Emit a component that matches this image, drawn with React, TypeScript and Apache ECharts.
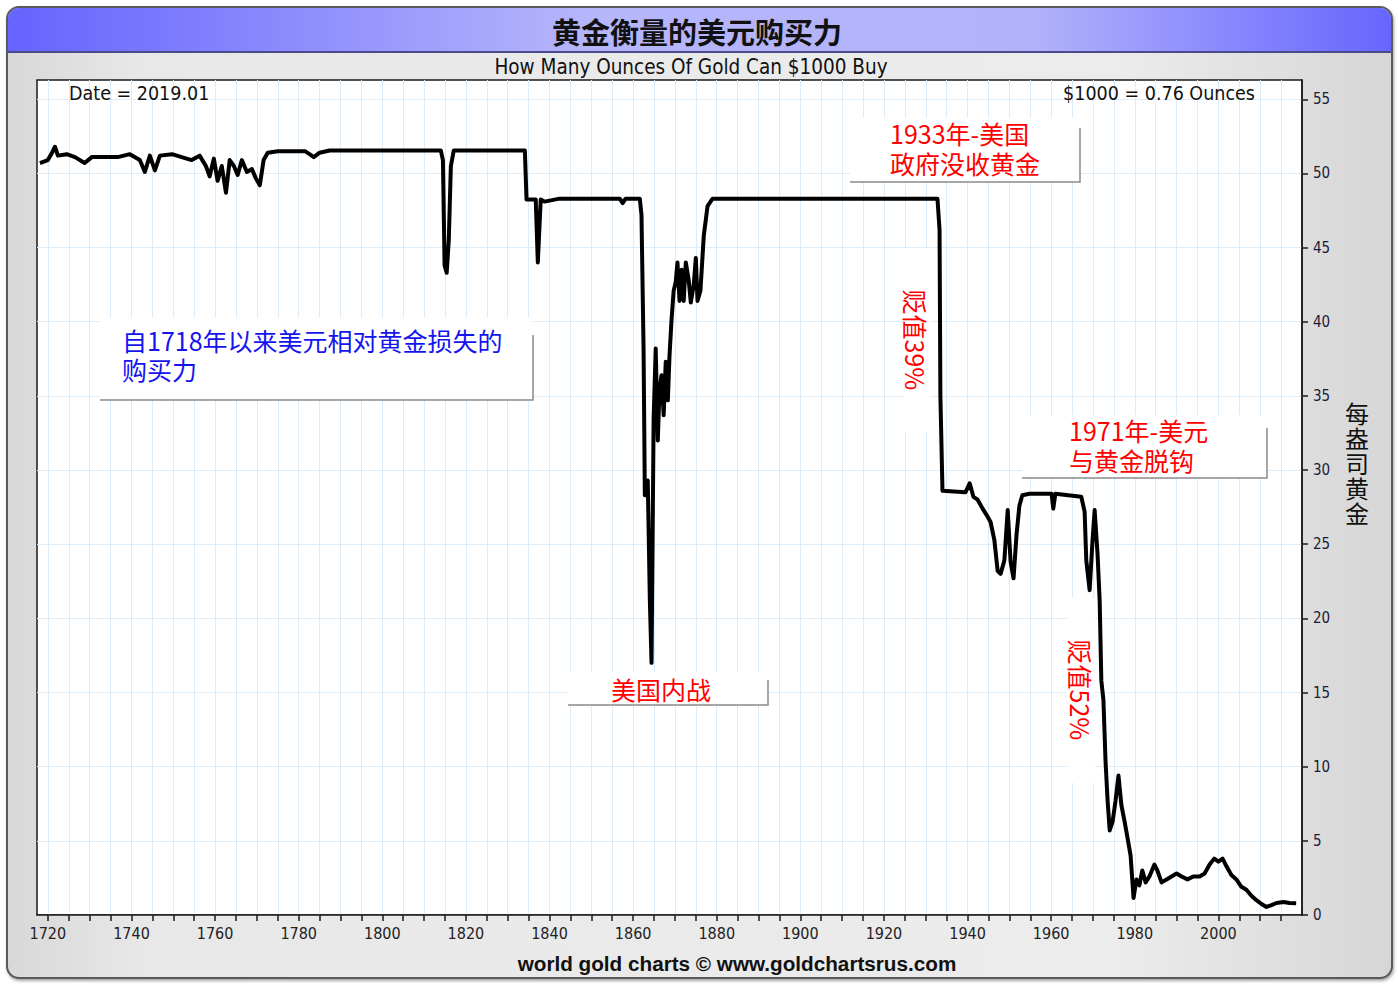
import React, { useEffect, useRef } from "react";
import * as echarts from "echarts";

// ---- Data ----
const years: number[] = [
  1718.1, 1720.0, 1721.0, 1721.7, 1722.4, 1724.5, 1726.5, 1728.8, 1730.5, 1733.6,
  1736.7, 1739.6, 1742.0, 1743.2, 1744.4, 1745.6, 1746.8, 1749.7, 1752.0, 1754.4,
  1756.3, 1757.8, 1758.7, 1759.7, 1760.6, 1761.6, 1762.6, 1763.5, 1764.5, 1765.4,
  1766.4, 1767.6, 1768.8, 1769.7, 1770.7, 1771.6, 1772.6, 1775.0, 1781.5, 1782.6,
  1783.6, 1785.0, 1787.4, 1814.0, 1814.5, 1814.9, 1815.4, 1815.9, 1816.4, 1817.1,
  1834.1, 1834.5, 1836.7, 1837.2, 1837.9, 1838.8, 1842.4, 1856.8, 1857.5, 1858.2,
  1861.6, 1862.0, 1862.5, 1862.8, 1863.5, 1864.0, 1864.4, 1864.9, 1865.4, 1865.9,
  1866.3, 1866.8, 1867.3, 1867.8, 1868.3, 1868.7, 1869.2, 1869.7, 1870.2, 1870.6,
  1871.1, 1871.6, 1872.1, 1872.6, 1873.3, 1873.8, 1874.5, 1875.0, 1875.4, 1876.1,
  1876.9, 1877.8, 1879.0, 1932.8, 1933.3, 1933.5, 1934.0, 1939.5, 1940.5, 1941.4,
  1942.4, 1943.6, 1944.5, 1945.5, 1946.4, 1947.2, 1947.9, 1948.8, 1949.6, 1950.3,
  1951.0, 1951.7, 1952.4, 1953.1, 1954.8, 1960.1, 1960.5, 1961.0, 1967.2, 1968.0,
  1968.4, 1969.2, 1969.9, 1970.4, 1971.1, 1971.6, 1972.0, 1972.5, 1973.0, 1973.5,
  1974.0, 1974.7, 1975.4, 1976.1, 1976.8, 1977.5, 1978.2, 1979.0, 1979.7, 1980.4,
  1981.1, 1981.8, 1982.6, 1983.5, 1984.7, 1985.4, 1986.4, 1987.6, 1988.8, 1990.0,
  1991.2, 1992.6, 1994.0, 1995.5, 1996.7, 1997.9, 1999.0, 2000.0, 2001.0, 2001.9,
  2003.1, 2004.3, 2005.5, 2006.7, 2007.9, 2009.1, 2010.3, 2011.5, 2012.7, 2013.9,
  2015.6, 2017.0, 2018.6,
];
const ounces: number[] = [
  50.7, 50.9, 51.4, 51.8, 51.2, 51.3, 51.1, 50.7, 51.1, 51.1,
  51.1, 51.3, 50.9, 50.1, 51.2, 50.2, 51.2, 51.3, 51.1, 50.9,
  51.2, 50.5, 49.8, 51.0, 49.5, 50.5, 48.7, 50.9, 50.5, 49.9,
  50.9, 50.1, 50.3, 49.7, 49.2, 50.9, 51.4, 51.5, 51.5, 51.3,
  51.1, 51.4, 51.55, 51.55, 50.9, 43.8, 43.3, 45.5, 50.5, 51.55,
  51.55, 48.25, 48.25, 44.0, 48.25, 48.1, 48.3, 48.3, 48.0, 48.3,
  48.3, 47.2, 38.1, 28.3, 29.3, 21.2, 17.0, 33.4, 38.2, 32.0,
  35.4, 36.4, 33.7, 37.3, 34.7, 37.7, 40.2, 42.1, 42.7, 44.0,
  41.4, 43.5, 41.4, 44.0, 42.8, 41.3, 42.5, 44.3, 41.4, 42.1,
  45.8, 47.8, 48.3, 48.3, 46.2, 35.0, 28.6, 28.5, 29.1, 28.2,
  28.0, 27.4, 27.0, 26.5, 25.3, 23.2, 23.0, 23.9, 27.3, 23.8,
  22.7, 25.6, 27.6, 28.3, 28.4, 28.4, 27.4, 28.4, 28.2, 27.2,
  23.9, 21.9, 25.3, 27.3, 24.3, 21.2, 15.8, 14.5, 10.4, 7.7,
  5.7, 6.3, 7.7, 9.4, 7.4, 6.4, 5.3, 4.0, 1.15, 2.4,
  2.0, 3.0, 2.2, 2.6, 3.4, 3.0, 2.2, 2.4, 2.6, 2.8,
  2.6, 2.4, 2.6, 2.6, 2.8, 3.4, 3.8, 3.6, 3.8, 3.3,
  2.7, 2.4, 1.9, 1.7, 1.3, 1.0, 0.74, 0.54, 0.67, 0.81,
  0.88, 0.81, 0.8,
];

const xTickYears: number[] = [
  1720, 1725, 1730, 1735, 1740, 1745, 1750, 1755, 1760, 1765, 1770, 1775, 1780, 1785,
  1790, 1795, 1800, 1805, 1810, 1815, 1820, 1825, 1830, 1835, 1840, 1845, 1850, 1855,
  1860, 1865, 1870, 1875, 1880, 1885, 1890, 1895, 1900, 1905, 1910, 1915, 1920, 1925,
  1930, 1935, 1940, 1945, 1950, 1955, 1960, 1965, 1970, 1975, 1980, 1985, 1990, 1995,
  2000, 2005, 2010, 2015,
];
const xLabelYears: number[] = [
  1720, 1740, 1760, 1780, 1800, 1820, 1840, 1860, 1880, 1900, 1920, 1940, 1960, 1980, 2000,
];
const yTickValues: number[] = [0, 5, 10, 15, 20, 25, 30, 35, 40, 45, 50, 55];

const titleText = "黄金衡量的美元购买力";
const subtitleText = "How Many Ounces Of Gold Can $1000 Buy";
const footerText = "world gold charts © www.goldchartsrus.com";
const dateText = "Date = 2019.01";
const latestText = "$1000 = 0.76 Ounces";
const yAxisName = "每盎司黄金";

const NARROW = '"Liberation Sans Narrow", "DejaVu Sans Condensed", "Liberation Sans", sans-serif';
const CJK = '"Noto Sans CJK SC", "Noto Sans", sans-serif';

function noteBox(x: number, y: number, w: number, h: number, lineTop: number) {
  return [
    { type: "rect", z: 1, shape: { x, y, width: w, height: h }, style: { fill: "#ffffff" } },
    {
      type: "polyline",
      z: 1,
      shape: { points: [[x, y + h], [x + w, y + h], [x + w, lineTop]] },
      style: { stroke: "#8a8a8a", lineWidth: 1.5, fill: null },
    },
  ];
}

function noteText(text: string, x: number, y: number, color = "#ff0000", align = "left") {
  return {
    type: "text",
    z: 5,
    style: {
      text,
      x,
      y,
      fill: color,
      fontSize: 25,
      fontFamily: CJK,
      textAlign: align,
      textVerticalAlign: "middle",
    },
  };
}

function vertText(text: string, cx: number, cy: number) {
  return {
    type: "text",
    z: 5,
    x: cx,
    y: cy,
    rotation: -Math.PI / 2,
    style: {
      text,
      x: 0,
      y: 0,
      fill: "#ff0000",
      fontSize: 25,
      fontFamily: CJK,
      textAlign: "center",
      textVerticalAlign: "middle",
    },
  };
}

export default function App() {
  const ref = useRef<HTMLDivElement>(null);

  useEffect(() => {
    if (!ref.current) return;
    const chart = echarts.init(ref.current, null, { renderer: "svg" });
    const data = years.map((y, i) => [y, ounces[i]]);

    const nameChars = yAxisName.split("").map((ch, i) => ({
      type: "text",
      z: 5,
      style: {
        text: ch,
        x: 1357,
        y: 412 + i * 25,
        fill: "#111111",
        fontSize: 24,
        fontFamily: CJK,
        textAlign: "center",
        textVerticalAlign: "middle",
      },
    }));

    const graphic: any[] = [
      // outer frame
      {
        type: "rect",
        z: -100,
        shape: { x: 7, y: 7, width: 1385, height: 971, r: 12 },
        style: {
          fill: new echarts.graphic.LinearGradient(0, 0, 1, 0, [
            { offset: 0, color: "#d8d8d8" },
            { offset: 0.1, color: "#e8e8e8" },
            { offset: 0.8, color: "#ececec" },
            { offset: 1, color: "#d6d6d6" },
          ]),
          stroke: "#5a5a5a",
          lineWidth: 2,
          shadowBlur: 3,
          shadowOffsetX: 1,
          shadowOffsetY: 2,
          shadowColor: "rgba(0,0,0,0.35)",
        },
      },
      // header bar
      {
        type: "rect",
        z: -99,
        shape: { x: 8, y: 8, width: 1383, height: 44, r: [11, 11, 0, 0] },
        style: {
          fill: new echarts.graphic.LinearGradient(0, 0, 1, 0, [
            { offset: 0, color: "#6464ff" },
            { offset: 0.42, color: "#b6b6fb" },
            { offset: 0.74, color: "#b2b2fb" },
            { offset: 1, color: "#6666ff" },
          ]),
        },
      },
      {
        type: "line",
        z: -98,
        shape: { x1: 8, y1: 52, x2: 1391, y2: 52 },
        style: { stroke: "#4b4b8c", lineWidth: 2 },
      },
      {
        type: "text",
        z: 5,
        style: {
          text: titleText,
          x: 697,
          y: 31,
          fill: "#111111",
          fontSize: 29,
          fontWeight: "bold",
          fontFamily: CJK,
          textAlign: "center",
          textVerticalAlign: "middle",
        },
      },
      {
        type: "text",
        z: 5,
        style: {
          text: subtitleText,
          x: 691,
          y: 67,
          fill: "#111111",
          fontSize: 20.5,
          fontFamily: NARROW,
          textAlign: "center",
          textVerticalAlign: "middle",
        },
      },
      {
        type: "text",
        z: 5,
        style: {
          text: footerText,
          x: 737,
          y: 963,
          fill: "#111111",
          fontSize: 20.7,
          fontWeight: "bold",
          fontFamily: '"Liberation Sans", Arial, sans-serif',
          textAlign: "center",
          textVerticalAlign: "middle",
        },
      },
      {
        type: "text",
        z: 5,
        style: {
          text: dateText,
          x: 69,
          y: 93,
          fill: "#111111",
          fontSize: 19.5,
          fontFamily: NARROW,
          textAlign: "left",
          textVerticalAlign: "middle",
        },
      },
      {
        type: "text",
        z: 5,
        style: {
          text: latestText,
          x: 1255,
          y: 93,
          fill: "#111111",
          fontSize: 19.5,
          fontFamily: NARROW,
          textAlign: "right",
          textVerticalAlign: "middle",
        },
      },
      ...nameChars,
      // annotation boxes
      ...noteBox(100, 318, 433, 82, 335),
      ...noteBox(850, 118, 230, 64, 128),
      ...noteBox(1022, 415, 245, 63, 428),
      ...noteBox(568, 672, 200, 33, 680),
      { type: "rect", z: 1, shape: { x: 903, y: 248, width: 28, height: 184 }, style: { fill: "#ffffff" } },
      { type: "rect", z: 1, shape: { x: 1067, y: 598, width: 28, height: 185 }, style: { fill: "#ffffff" } },
      noteText("自1718年以来美元相对黄金损失的", 122, 340, "#1414f0"),
      noteText("购买力", 122, 369, "#1414f0"),
      noteText("1933年-美国", 890, 133),
      noteText("政府没收黄金", 890, 163),
      noteText("1971年-美元", 1069, 430),
      noteText("与黄金脱钩", 1069, 460),
      noteText("美国内战", 661, 689, "#ff0000", "center"),
      vertText("贬值39%", 916, 340),
      vertText("贬值52%", 1081, 690),
    ];

    chart.setOption({
      animation: false,
      backgroundColor: "transparent",
      graphic,
      grid: {
        left: 37,
        top: 80,
        right: 96,
        bottom: 70,
        show: true,
        backgroundColor: "#ffffff",
        borderColor: "#1a1a1a",
        borderWidth: 1.5,
        containLabel: false,
        outerBoundsMode: "none",
      },
      xAxis: {
        type: "value",
        min: 1717.4,
        max: 2020,
        axisLine: { show: true, onZero: false, lineStyle: { color: "#1a1a1a", width: 1.5 } },
        axisTick: {
          show: true,
          customValues: xTickYears,
          length: 6,
          lineStyle: { color: "#1a1a1a", width: 1.5 },
        },
        axisLabel: {
          customValues: xLabelYears,
          color: "#222222",
          fontSize: 16,
          fontFamily: NARROW,
          margin: 10,
          formatter: (v: number) => String(Math.round(v)),
        },
        splitLine: { show: true, lineStyle: { color: "#dcecf8", width: 1 } },
      },
      yAxis: {
        type: "value",
        position: "right",
        min: 0,
        max: 56.3,
        axisLine: { show: true, lineStyle: { color: "#1a1a1a", width: 1.5 } },
        axisTick: {
          show: true,
          customValues: yTickValues,
          length: 6,
          lineStyle: { color: "#1a1a1a", width: 1.5 },
        },
        axisLabel: {
          customValues: yTickValues,
          color: "#1c1c38",
          fontSize: 15,
          fontFamily: NARROW,
          margin: 11,
        },
        splitLine: { show: true, lineStyle: { color: "#dcecf8", width: 1 } },
      },
      series: [
        {
          type: "line",
          data,
          showSymbol: false,
          symbol: "none",
          z: 3,
          lineStyle: { color: "#000000", width: 4, join: "round" },
        },
      ],
    });

    return () => chart.dispose();
  }, []);

  return (
    <div
      ref={ref}
      style={{ position: "absolute", left: 0, top: 0, width: 1398, height: 985 }}
    />
  );
}
